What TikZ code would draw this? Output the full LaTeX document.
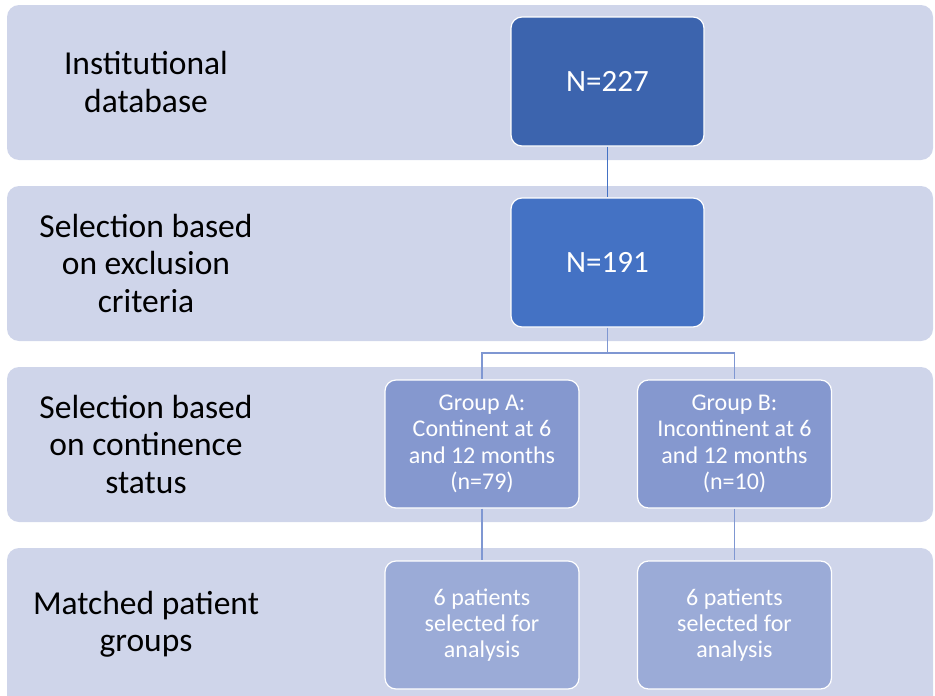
\documentclass[tikz,border=0pt]{standalone}
\usepackage{fontspec}
\setmainfont{Carlito}
\usetikzlibrary{positioning}
\definecolor{bandc}{HTML}{CFD5EA}
\definecolor{topc}{HTML}{3C64AE}
\definecolor{secc}{HTML}{4472C4}
\definecolor{grpc}{HTML}{8598CF}
\definecolor{botc}{HTML}{9BABD7}
\definecolor{linec}{HTML}{7F97D2}
\tikzset{
  band/.style={fill=bandc, draw=none, rounded corners=12pt},
  lbl/.style={align=center, text=black, font=\fontsize{33.5}{37.5}\selectfont, inner sep=0pt},
  bigbox/.style={draw=white, line width=1.2pt, rounded corners=11pt, minimum width=193pt, minimum height=129pt, text=white, font=\fontsize{31}{37}\selectfont, align=center},
  smallbox/.style={draw=white, line width=1.2pt, rounded corners=11pt, minimum width=194pt, minimum height=128pt, text=white, font=\fontsize{24}{26.3}\selectfont, align=center},
  conn/.style={line width=1.3pt},
}
\begin{document}
\begin{tikzpicture}[x=1pt,y=-1pt]
\useasboundingbox (0,0) rectangle (935,696);
\begin{scope}
\clip (0,0) rectangle (935,696);
\path[band] (7,5) rectangle (933,160);
\path[band] (7,186) rectangle (933,341);
\path[band] (7,367) rectangle (933,522);
\path[band] (7,548) rectangle (933,708);
\end{scope}

\node[lbl] (l1) at (146,82) {Institutional\\database};
\node[lbl] (l2) at (146,263) {Selection based\\on exclusion\\criteria};
\node[lbl] (l3) at (146,444) {Selection based\\on continence\\status};
\node[lbl] (l4) at (146,624) {Matched patient\\groups};

\node[bigbox, fill=topc] (n227) at (607.5,81.5) {N=227};
\node[bigbox, fill=secc] (n191) at (607.5,262.5) {N=191};
\node[smallbox, fill=grpc] (ga) at (482,444) {Group A:\\Continent at 6\\and 12 months\\(n=79)};
\node[smallbox, fill=grpc] (gb) at (734.5,444) {Group B:\\Incontinent at 6\\and 12 months\\(n=10)};
\node[smallbox, fill=botc] (ma) at (482,625) {6 patients\\selected for\\analysis};
\node[smallbox, fill=botc] (mb) at (734.5,625) {6 patients\\selected for\\analysis};

\coordinate (j) at (607.5,353);
\draw[conn, draw=secc] (n227.south) -- (n191.north);
\draw[conn, draw=linec] (n191.south) -- (j) -| (ga.north);
\draw[conn, draw=linec] (j) -| (gb.north);
\draw[conn, draw=linec] (ga.south) -- (ma.north);
\draw[conn, draw=linec] (gb.south) -- (mb.north);
\end{tikzpicture}
\end{document}
